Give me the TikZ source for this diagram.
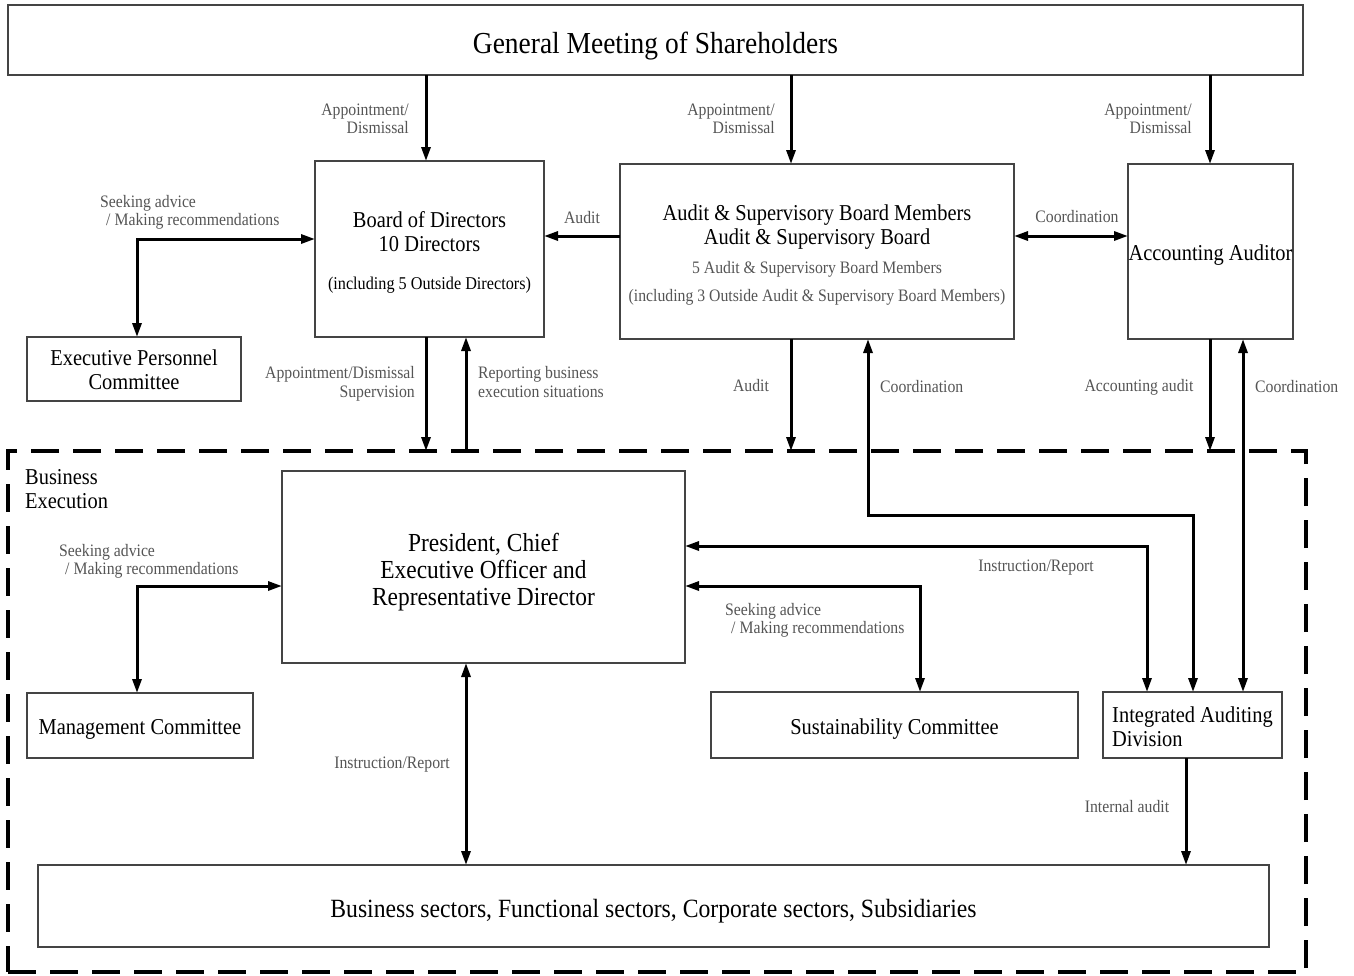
\documentclass[tikz,border=0pt]{standalone}
\usepackage{fontspec}
\setmainfont{Liberation Serif}[FakeStretch=0.9]
\usetikzlibrary{arrows.meta,calc}
\definecolor{labc}{HTML}{555555}
\definecolor{boxc}{HTML}{444444}
\newcommand\bxf{\fontsize{22.7}{24}\selectfont}
\newcommand\lbf{\fontsize{17.5}{18.5}\selectfont}
\newcommand\sbf{\color{labc}\fontsize{17.5}{18.5}\selectfont}
\newcommand\st[1]{\rule{0pt}{#1pt}}
\begin{document}
\begin{tikzpicture}[x=1pt,y=-1pt,
 box/.style={draw=boxc,line width=1.2pt,inner sep=0pt,outer sep=0pt,font=\bxf,align=center,anchor=north west},
 lab/.style={text=labc,font=\lbf,inner sep=0pt},
 arr/.style={line width=3pt,-{Triangle[length=14pt,width=9pt]}},
 darr/.style={line width=3pt,{Triangle[length=14pt,width=9pt]}-{Triangle[length=14pt,width=9pt]}}]
\useasboundingbox (0,0) rectangle (1354,975);
% frame
\node[draw=black,line width=3.5pt,dash pattern=on 28pt off 14pt,minimum width=1298pt,minimum height=521pt,anchor=north west,inner sep=0pt,outer sep=0pt] (frame) at (8,451) {};
% boxes
\node[box,minimum width=1295pt,minimum height=70pt,font=\fontsize{30.5}{32}\selectfont] (gms) at (8,5) {\st{33}General Meeting of Shareholders};
\node[box,minimum width=229pt,minimum height=176pt] (board) at (315,161) {\st{23.5}Board of Directors\\10 Directors\\[14pt]\fontsize{18}{19}\selectfont (including 5 Outside Directors)};
\node[box,minimum width=394pt,minimum height=175pt] (asb) at (620,164) {\st{23.5}Audit \& Supervisory Board Members\\Audit \& Supervisory Board\\[5pt]\sbf 5 Audit \& Supervisory Board Members\\[4pt]\sbf (including 3 Outside Audit \& Supervisory Board Members)};
\node[box,minimum width=165pt,minimum height=175pt] (aud) at (1128,164) {\st{23.5}Accounting Auditor};
\node[box,minimum width=214pt,minimum height=64pt] (epc) at (27,337) {\st{17.5}Executive Personnel\\Committee};
\node[box,minimum width=403pt,minimum height=192pt,font=\fontsize{26}{27}\selectfont] (pres) at (282,471) {\st{28}President, Chief\\Executive Officer and\\Representative Director};
\node[box,minimum width=226pt,minimum height=65pt] (mgmt) at (27,693) {\st{23.5}Management Committee};
\node[box,minimum width=367pt,minimum height=66pt] (sust) at (711,692) {\st{23.5}Sustainability Committee};
\node[box,minimum width=179pt,minimum height=66pt,align=left] (iad) at (1103,692) {\st{19.5}Integrated Auditing\\Division};
\node[box,minimum width=1231pt,minimum height=82pt,font=\fontsize{26.3}{27}\selectfont] (bs) at (38,865) {\st{28}Business sectors, Functional sectors, Corporate sectors, Subsidiaries};
\node[inner sep=0pt,font=\bxf,align=left,anchor=west] (bex) at (25,489) {Business\\Execution};
% coordinates
\coordinate (xa) at (426,0);
\coordinate (xb) at (791,0);
\coordinate (xc) at (1210,0);
\coordinate (xe) at (1243,0);
\coordinate (xf) at (868,0);
\coordinate (xg) at (1193,0);
\coordinate (xi) at (1147,0);
\coordinate (xk) at (920,0);
\coordinate (xs) at (137,0);
\coordinate (xr) at (466,0);
\coordinate (xn) at (1186,0);
\coordinate (yt) at (0,236);
\coordinate (ys1) at (0,239);
\coordinate (yc) at (0,515);
\coordinate (yi) at (0,546);
\coordinate (ysk) at (0,586);
% arrows
\draw[arr] (gms.south -| xa) -- (board.north -| xa);
\draw[arr] (gms.south -| xb) -- (asb.north -| xb);
\draw[arr] (gms.south -| xc) -- (aud.north -| xc);
\draw[arr] (asb.west |- yt) -- (board.east |- yt);
\draw[darr] (asb.east |- yt) -- (aud.west |- yt);
\draw[darr] (epc.north -| xs) -- (xs |- ys1) -- (board.west |- ys1);
\draw[arr] (board.south -| xa) -- (frame.north -| xa);
\draw[arr] (frame.north -| xr) -- (board.south -| xr);
\draw[arr] (asb.south -| xb) -- (frame.north -| xb);
\draw[darr] (asb.south -| xf) -- (xf |- yc) -- (xg |- yc) -- (iad.north -| xg);
\draw[arr] (aud.south -| xc) -- (frame.north -| xc);
\draw[darr] (aud.south -| xe) -- (iad.north -| xe);
\draw[darr] (mgmt.north -| xs) -- (xs |- ysk) -- (pres.west |- ysk);
\draw[darr] (pres.east |- yi) -- (xi |- yi) -- (iad.north -| xi);
\draw[darr] (pres.east |- ysk) -- (xk |- ysk) -- (sust.north -| xk);
\draw[darr] (pres.south -| xr) -- (bs.north -| xr);
\draw[arr] (iad.south -| xn) -- (bs.north -| xn);
% labels
\node[lab,align=right,anchor=east] (l1) at (409,119) {Appointment/\\Dismissal};
\node[lab,align=right,anchor=east] (l2) at (775,119) {Appointment/\\Dismissal};
\node[lab,align=right,anchor=east] (l3) at (1192,119) {Appointment/\\Dismissal};
\node[lab,align=left,anchor=west] (l4) at (100,212.5) {Seeking advice\\\hspace*{6pt}/ Making recommendations};
\node[lab] (l5) at (582,218) {Audit};
\node[lab] (l6) at (1077,217) {Coordination};
\node[lab,align=right,anchor=east] (l7) at (415,384) {Appointment/Dismissal\\Supervision};
\node[lab,align=left,anchor=west] (l8) at (478,382) {Reporting business\\execution situations};
\node[lab] (l9) at (751,386) {Audit};
\node[lab,anchor=west] (l10) at (880,387) {Coordination};
\node[lab] (l11) at (1139,387) {Accounting audit};
\node[lab,anchor=west] (l12) at (1255,387) {Coordination};
\node[lab,align=left,anchor=west] (l13) at (59,561.5) {Seeking advice\\\hspace*{6pt}/ Making recommendations};
\node[lab] (l14) at (1036,568) {Instruction/Report};
\node[lab,align=left,anchor=west] (l15) at (725,620.5) {Seeking advice\\\hspace*{6pt}/ Making recommendations};
\node[lab] (l16) at (392,765) {Instruction/Report};
\node[lab] (l17) at (1127,806) {Internal audit};
\end{tikzpicture}
\end{document}
